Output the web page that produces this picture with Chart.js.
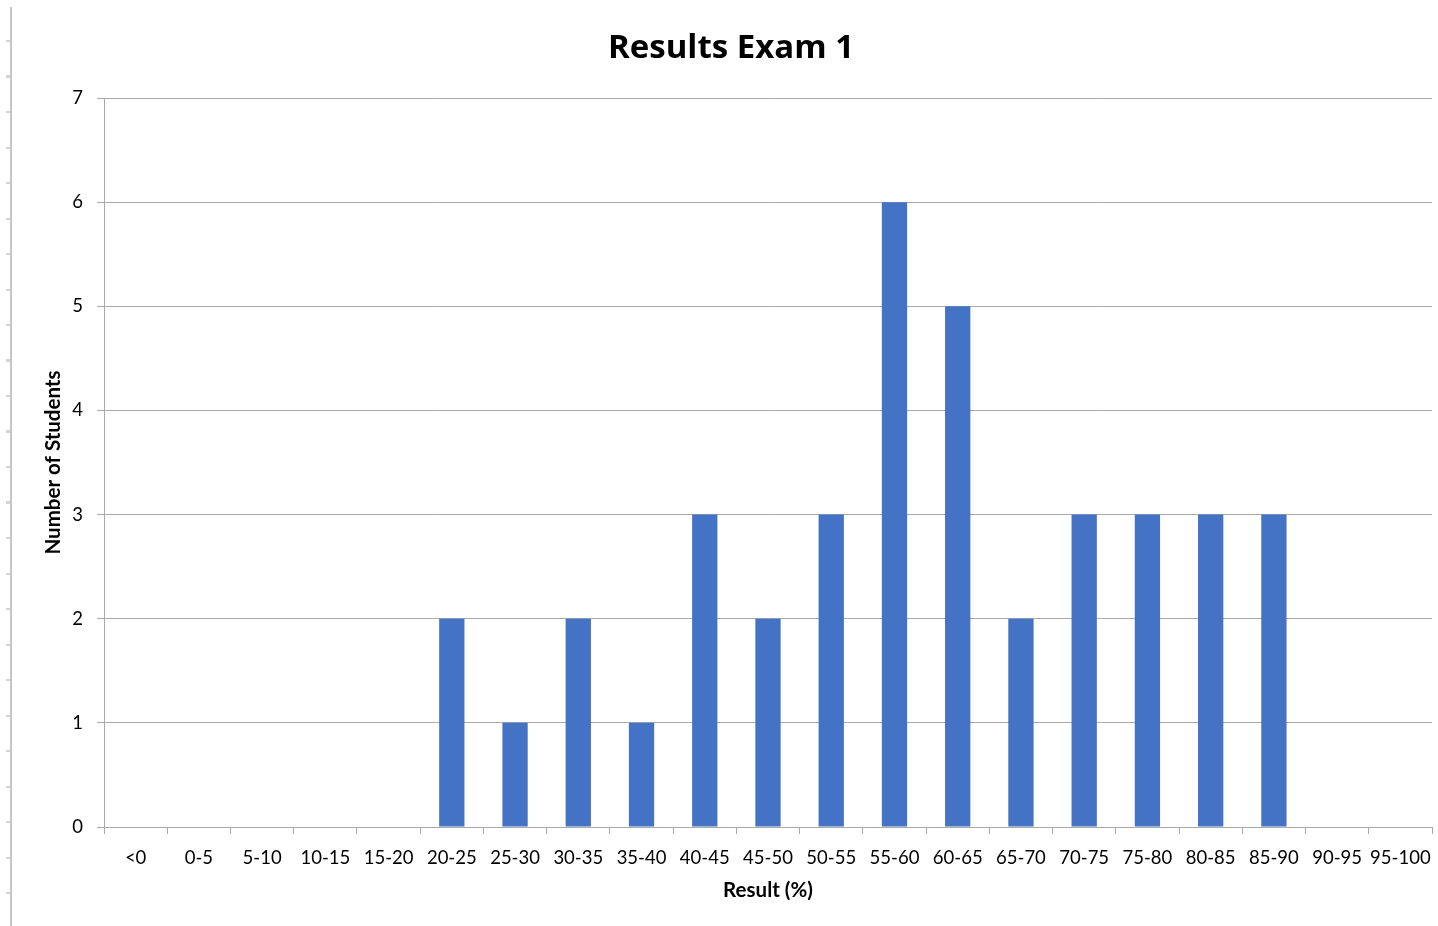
<!DOCTYPE html>
<html>
<head>
<meta charset="utf-8">
<script src="https://cdn.jsdelivr.net/npm/chart.js@4/dist/chart.umd.min.js"></script>
<style>
  html, body { margin: 0; padding: 0; background: #fff; }
  #wrap { position: relative; width: 1438px; height: 926px; }
  #ruler { position: absolute; left: 6px; top: 7px; width: 6px; height: 919px;
    border-right: 2px solid #c6c6c6; box-sizing: border-box;
    background: repeating-linear-gradient(to bottom, transparent 0px, transparent 33px, #d4d4d4 33px, #d4d4d4 35.5px); }
  canvas { position: absolute; left: 0; top: 0; }
</style>
</head>
<body>
<div id="wrap">
  <div id="ruler"></div>
  <canvas id="c" width="1438" height="926"></canvas>
</div>
<script>
const categories = ['<0','0-5','5-10','10-15','15-20','20-25','25-30','30-35','35-40','40-45','45-50','50-55','55-60','60-65','65-70','70-75','75-80','80-85','85-90','90-95','95-100'];
const students = [0,0,0,0,0,2,1,2,1,3,2,3,6,5,2,3,3,3,3,0,0];
const yTicks = [0,1,2,3,4,5,6,7];

const FONT = 'Lato, "Open Sans", sans-serif';
const TITLE_FONT = '"Open Sans", Lato, sans-serif';
const GRID = '#a9a9a9';

new Chart(document.getElementById('c'), {
  type: 'bar',
  data: {
    labels: categories,
    datasets: [{
      label: 'Number of Students',
      data: students,
      backgroundColor: '#4472C4',
      borderWidth: 0,
      barPercentage: 0.4,
      categoryPercentage: 1.0
    }]
  },
  options: {
    responsive: false,
    animation: false,
    layout: { padding: { left: 30, right: 6, top: 0, bottom: 0 } },
    plugins: {
      legend: { display: false },
      tooltip: { enabled: false },
      title: {
        display: true,
        text: 'Results Exam 1',
        color: '#000',
        font: { family: TITLE_FONT, size: 33, weight: 'bold', lineHeight: 1.2 },
        padding: { top: 29, bottom: 29.4 }
      }
    },
    scales: {
      x: {
        grid: { offset: true, drawOnChartArea: false, drawTicks: true, tickLength: 7, color: GRID, lineWidth: 1 },
        border: { display: true, color: GRID, width: 1 },
        ticks: { color: '#000', font: { family: FONT, size: 18.5 }, padding: 13, maxRotation: 0, autoSkip: false },
        title: { display: true, text: 'Result (%)', color: '#000', font: { family: FONT, size: 20.5, weight: 'bold' }, padding: { top: 6, bottom: 23 } },
        afterFit: (s) => { s.height = 99; s.paddingLeft = 0; s.paddingRight = 0; }
      },
      y: {
        min: 0, max: 7,
        afterBuildTicks: (s) => { s.ticks = yTicks.map(v => ({ value: v })); },
        grid: { drawTicks: true, tickLength: 7, color: GRID, lineWidth: 1 },
        border: { display: true, color: GRID, width: 1 },
        ticks: { color: '#000', font: { family: FONT, size: 18.5 }, padding: 14 },
        title: { display: true, text: 'Number of Students', color: '#000', font: { family: FONT, size: 20.5, weight: 'bold' }, padding: { top: 11, bottom: 0 } },
        afterFit: (s) => { s.width = 74; }
      }
    }
  }
});
</script>
</body>
</html>
